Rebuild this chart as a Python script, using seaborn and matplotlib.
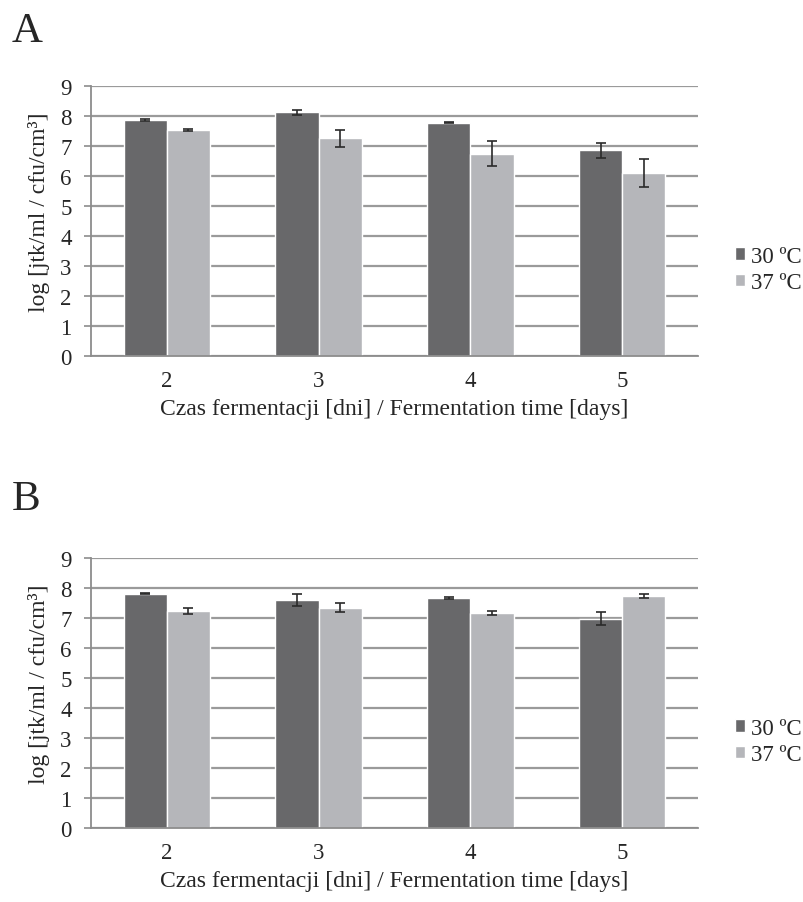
import numpy as np
import pandas as pd
import matplotlib.pyplot as plt
import seaborn as sns

# --- Data ---
days = ['2', '3', '4', '5']
temps = ['30 ºC', '37 ºC']

a_30 = [7.87, 8.13, 7.78, 6.86]
a_30_err = [0.03, 0.08, 0.02, 0.25]
a_37 = [7.54, 7.26, 6.75, 6.10]
a_37_err = [0.04, 0.28, 0.43, 0.46]

b_30 = [7.81, 7.59, 7.66, 6.98]
b_30_err = [0.02, 0.20, 0.03, 0.22]
b_37 = [7.22, 7.34, 7.17, 7.73]
b_37_err = [0.10, 0.15, 0.07, 0.07]

colors = ['#68686a', '#b5b6ba']
grid_col = '#9a9a9a'

sns.set_style('white')
plt.rcParams['font.family'] = ['Liberation Serif', 'DejaVu Serif']

fig = plt.figure(figsize=(8.04, 9.03), dpi=100)
ax_a = fig.add_axes([91 / 804, 1 - 357 / 903, 607 / 804, 270 / 903])
ax_b = fig.add_axes([91 / 804, 1 - 829 / 903, 607 / 804, 270 / 903])


def draw_panel(ax, v30, e30, v37, e37):
    df = pd.DataFrame({
        'day': days * 2,
        'temp': [temps[0]] * len(days) + [temps[1]] * len(days),
        'value': v30 + v37,
    })
    sns.barplot(data=df, x='day', y='value', hue='temp', order=days,
                hue_order=temps, palette=colors, width=0.57, saturation=1,
                errorbar=None, ax=ax)

    # error bars on the bars seaborn drew
    for cont, err in zip(ax.containers, [e30, e37]):
        xs = [b.get_x() + b.get_width() / 2 for b in cont]
        ys = [b.get_height() for b in cont]
        ax.errorbar(xs, ys, yerr=err, fmt='none', ecolor='#2a2a2a',
                    elinewidth=1.2, capsize=3.8, capthick=1.2, zorder=5)

    ax.set_ylim(0, 9)
    ax.set_yticks(range(10))
    ax.set_xlim(-0.5, 3.5)
    ax.yaxis.grid(True, color=grid_col, linewidth=1.6)
    ax.set_axisbelow(True)
    for s in ['top', 'right']:
        ax.spines[s].set_visible(False)
    for s in ['left', 'bottom']:
        ax.spines[s].set_color('#8c8c8c')
        ax.spines[s].set_linewidth(1.3)

    # boundary ticks between the categories
    ax.set_xticks(np.arange(-0.5, 4, 1), minor=True)
    ax.tick_params(axis='x', which='major', length=0, labelsize=16.5, pad=10)
    ax.tick_params(axis='x', which='minor', length=5, width=1.2,
                   color='#8c8c8c', direction='out')
    ax.tick_params(axis='y', length=5, width=1.2, color='#8c8c8c',
                   direction='out', labelsize=16.5, left=True, pad=9)

    ax.set_xlabel('Czas fermentacji [dni] / Fermentation time [days]',
                  fontsize=17, labelpad=5)
    ax.set_ylabel('log [jtk/ml / cfu/cm³]', fontsize=17)
    ax.yaxis.set_label_coords(-0.0675, 0.537)

    ax.legend(loc='center left', bbox_to_anchor=(1.061, 0.32), frameon=False,
              fontsize=16.5, handlelength=0.45, handleheight=0.45,
              handletextpad=0.25, labelspacing=0.25, borderaxespad=0,
              borderpad=0)


draw_panel(ax_a, a_30, a_30_err, a_37, a_37_err)
draw_panel(ax_b, b_30, b_30_err, b_37, b_37_err)

fig.text(12 / 804, 1 - 42 / 903, 'A', fontsize=31, va='baseline')
fig.text(12 / 804, 1 - 510 / 903, 'B', fontsize=31, va='baseline')

fig.savefig('out.png', dpi=100)
